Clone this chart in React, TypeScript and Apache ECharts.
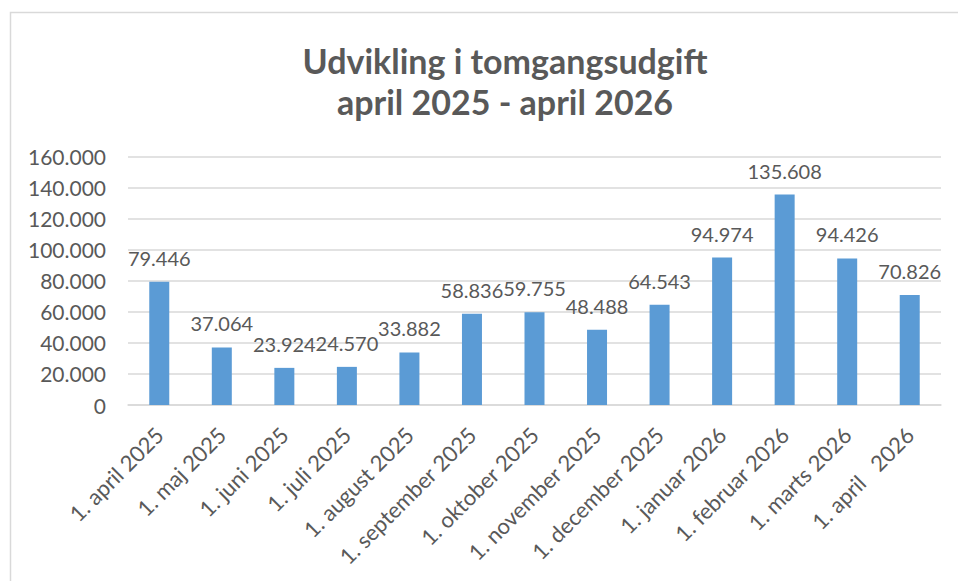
import React, { useEffect, useRef } from "react";
import * as echarts from "echarts";

const titleLines = ["Udvikling i tomgangsudgift", "april 2025 - april 2026"];
const categories = [
  "1. april 2025",
  "1. maj 2025",
  "1. juni 2025",
  "1. juli 2025",
  "1. august 2025",
  "1. september 2025",
  "1. oktober 2025",
  "1. november 2025",
  "1. december 2025",
  "1. januar 2026",
  "1. februar 2026",
  "1. marts 2026",
  "1. april   2026",
];
const values = [79446, 37064, 23924, 24570, 33882, 58836, 59755, 48488, 64543, 94974, 135608, 94426, 70826];
const yMin = 0;
const yMax = 160000;
const yStep = 20000;

const fmt = (n: number) => String(Math.round(n)).replace(/\B(?=(\d{3})+(?!\d))/g, ".");

const FONT = "Lato";
const GREY = "#595959";

export default function App() {
  const ref = useRef<HTMLDivElement>(null);
  useEffect(() => {
    if (!ref.current) return;
    const chart = echarts.init(ref.current, undefined, { renderer: "svg" });
    chart.setOption({
      animation: false,
      backgroundColor: "#ffffff",
      graphic: [
        {
          type: "rect",
          shape: { x: 10.5, y: 12.5, width: 1000, height: 700 },
          style: { fill: "none", stroke: "#d9d9d9", lineWidth: 1.5 },
          silent: true,
        },
        {
          type: "text",
          x: 505,
          y: 60,
          style: {
            text: titleLines[0],
            fill: GREY,
            font: `bold 34px ${FONT}`,
            textAlign: "center",
            textVerticalAlign: "middle",
          },
        },
        {
          type: "text",
          x: 505,
          y: 101,
          style: {
            text: titleLines[1],
            fill: GREY,
            font: `bold 34px ${FONT}`,
            textAlign: "center",
            textVerticalAlign: "middle",
          },
        },
      ],
      grid: { left: 128, right: 17, top: 156.7, bottom: 176, containLabel: false },
      xAxis: {
        type: "category",
        data: categories,
        axisLine: { lineStyle: { color: "#d9d9d9", width: 1.5 } },
        axisTick: { show: false },
        axisLabel: {
          rotate: 45,
          interval: 0,
          margin: 26,
          color: GREY,
          fontFamily: FONT,
          fontSize: 22,
        },
      },
      yAxis: {
        type: "value",
        min: yMin,
        max: yMax,
        interval: yStep,
        axisLine: { show: false },
        axisTick: { show: false },
        splitLine: { lineStyle: { color: "#d9d9d9", width: 1.5 } },
        axisLabel: {
          formatter: (v: number) => fmt(v),
          color: GREY,
          fontFamily: FONT,
          fontSize: 21,
          margin: 22,
        },
      },
      series: [
        {
          type: "bar",
          data: values,
          barWidth: 20,
          itemStyle: { color: "#5B9BD5" },
          label: {
            show: true,
            position: "top",
            distance: 14,
            formatter: (p: any) => fmt(p.value),
            color: GREY,
            fontFamily: FONT,
            fontSize: 20,
          },
        },
      ],
    });
    return () => chart.dispose();
  }, []);
  return (
    <div
      ref={ref}
      style={{ position: "fixed", left: 0, top: 0, width: 958, height: 581 }}
    />
  );
}
